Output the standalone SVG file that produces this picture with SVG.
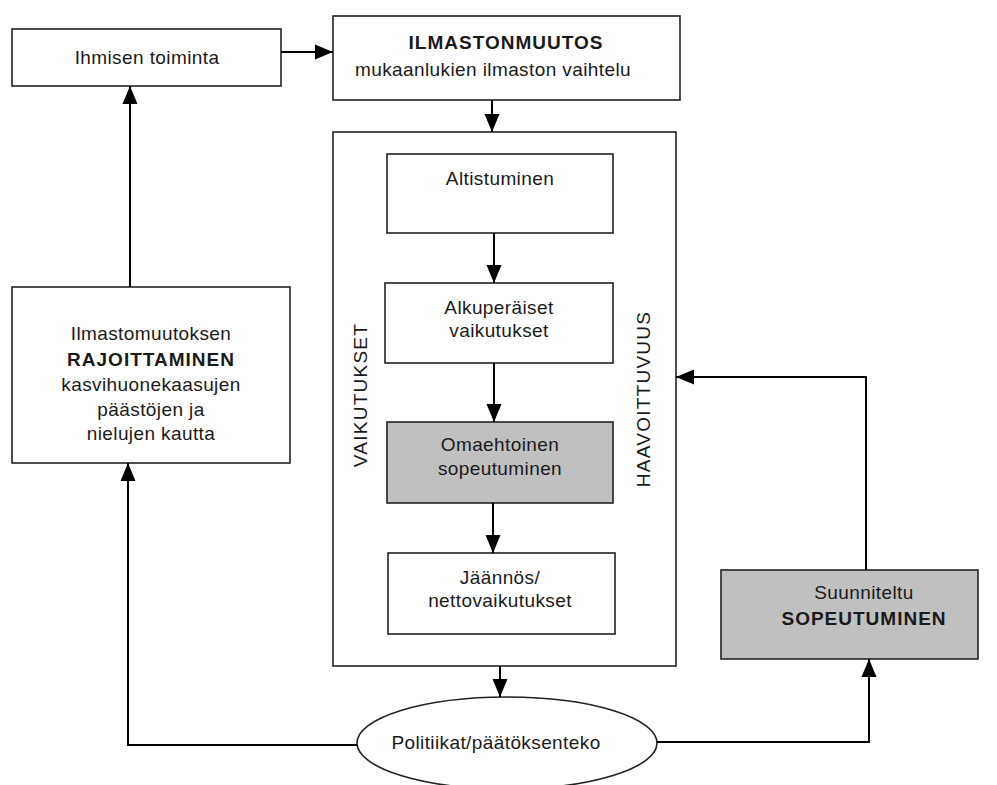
<svg xmlns="http://www.w3.org/2000/svg" width="997" height="785" viewBox="0 0 997 785">
<style>
.box{fill:#fff;stroke:#222;stroke-width:1.6}
.gray{fill:#c0c0c0;stroke:#222;stroke-width:1.6}
.t{font-family:"Liberation Sans",Arial,sans-serif;font-size:19px;fill:#1a1a1a;text-anchor:middle;letter-spacing:0.4px}
.b{font-weight:bold;letter-spacing:1px}
.v{letter-spacing:1.25px}
.c{fill:none;stroke:#000;stroke-width:2}
</style>
<defs>
<marker id="ah" markerUnits="userSpaceOnUse" markerWidth="20" markerHeight="20" viewBox="0 0 20 20" refX="19" refY="10" orient="auto">
<path d="M1,2.5 L19,10 L1,17.5 Z" fill="#000"/>
</marker>
</defs>
<rect width="997" height="785" fill="#fff"/>
<g id="ihmisen">
<rect class="box" x="12" y="29" width="269" height="57"/>
<text class="t" x="147" y="64">Ihmisen toiminta</text>
</g>
<g id="ilmastonmuutos">
<rect class="box" x="333" y="16" width="347" height="84"/>
<text class="t b" x="506" y="49">ILMASTONMUUTOS</text>
<text class="t" x="493" y="76">mukaanlukien ilmaston vaihtelu</text>
</g>
<g id="haavoittuvuus-box">
<rect class="box" x="333" y="132" width="343" height="534"/>
<text class="t v" transform="translate(367,395) rotate(-90)">VAIKUTUKSET</text>
<text class="t v" transform="translate(650,399) rotate(-90)">HAAVOITTUVUUS</text>
</g>
<g id="altistuminen">
<rect class="box" x="387" y="154" width="226" height="79"/>
<text class="t" x="500" y="185">Altistuminen</text>
</g>
<g id="alkuperaiset">
<rect class="box" x="385" y="283" width="228" height="80"/>
<text class="t" x="499" y="314">Alkuperäiset</text>
<text class="t" x="499" y="337">vaikutukset</text>
</g>
<g id="omaehtoinen">
<rect class="gray" x="387" y="422" width="226" height="81"/>
<text class="t" x="500" y="451">Omaehtoinen</text>
<text class="t" x="500" y="475">sopeutuminen</text>
</g>
<g id="jaannos">
<rect class="box" x="388" y="553" width="227" height="81"/>
<text class="t" x="500" y="584">Jäännös/</text>
<text class="t" x="500" y="607">nettovaikutukset</text>
</g>
<g id="rajoittaminen">
<rect class="box" x="12" y="287" width="278" height="176"/>
<text class="t" x="151" y="340">Ilmastomuutoksen</text>
<text class="t b" x="151" y="366">RAJOITTAMINEN</text>
<text class="t" x="151" y="391">kasvihuonekaasujen</text>
<text class="t" x="151" y="416">päästöjen ja</text>
<text class="t" x="151" y="440">nielujen kautta</text>
</g>
<g id="suunniteltu">
<rect class="gray" x="721" y="570" width="257" height="89"/>
<text class="t" x="864" y="599">Suunniteltu</text>
<text class="t b" x="864" y="625">SOPEUTUMINEN</text>
</g>
<g id="politiikat">
<ellipse cx="507" cy="743" rx="150" ry="46" fill="#fff" stroke="#222" stroke-width="1.6"/>
<text class="t" x="496" y="749">Politiikat/päätöksenteko</text>
</g>
<g id="connectors">
<path class="c" d="M281,52 H333" marker-end="url(#ah)"/>
<path class="c" d="M492,100 V132" marker-end="url(#ah)"/>
<path class="c" d="M494,233 V283" marker-end="url(#ah)"/>
<path class="c" d="M494,363 V422" marker-end="url(#ah)"/>
<path class="c" d="M493,503 V553" marker-end="url(#ah)"/>
<path class="c" d="M500,666 V697" marker-end="url(#ah)"/>
<path class="c" d="M357,745 H128 V463" marker-end="url(#ah)"/>
<path class="c" d="M130,287 V86" marker-end="url(#ah)"/>
<path class="c" d="M657,742 H869 V659" marker-end="url(#ah)"/>
<path class="c" d="M866,570 V377 H676" marker-end="url(#ah)"/>
</g>
</svg>
